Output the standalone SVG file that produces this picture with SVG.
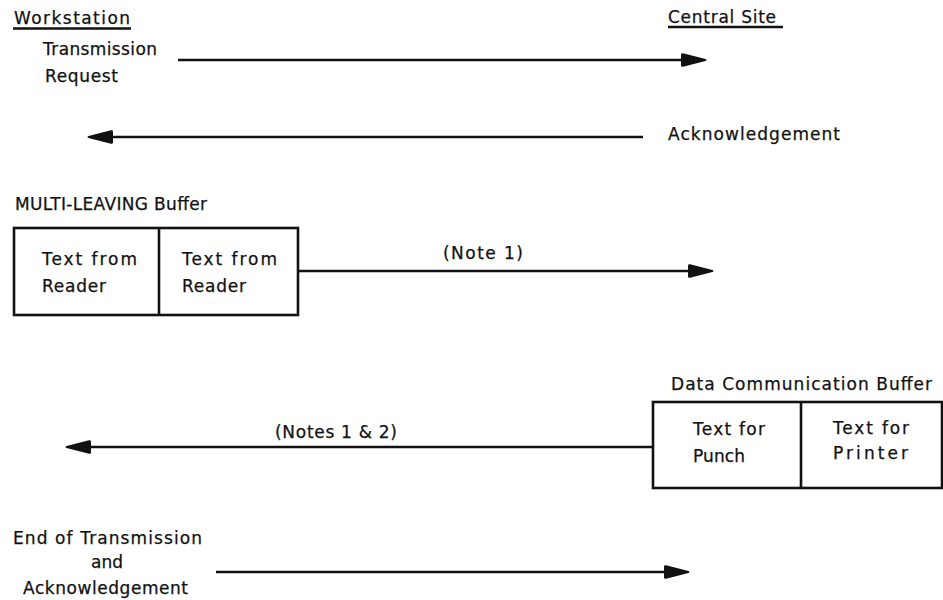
<svg xmlns="http://www.w3.org/2000/svg" width="943" height="600" viewBox="0 0 943 600">
<style>
text{font-family:"DejaVu Sans","Liberation Sans",sans-serif;font-size:17px;fill:#111;stroke:#111;stroke-width:0.25}
.ln{stroke:#111;stroke-width:2.6;fill:none}
.box{stroke:#111;stroke-width:2.6;fill:#fff}
</style>
<defs>
<marker id="ah" markerUnits="userSpaceOnUse" markerWidth="28" markerHeight="16" viewBox="0 0 28 16" refX="2" refY="8" orient="auto">
<path d="M0,2.5 Q0,1 2,1.3 L24.5,7 Q26.5,8 24.5,9 L2,14.7 Q0,15 0,13.5 z" fill="#111"/>
</marker>
</defs>
<rect width="943" height="600" fill="#fff"/>
<g id="workstation">
<text x="14" y="24" textLength="116" lengthAdjust="spacing">Workstation</text>
<line class="ln" x1="13" y1="28.5" x2="131" y2="28.5"/>
</g>
<g id="central-site">
<text x="668" y="23" textLength="108" lengthAdjust="spacing">Central Site</text>
<line class="ln" x1="668" y1="27" x2="783" y2="27"/>
</g>
<g id="transmission-request">
<text x="43" y="55" textLength="114" lengthAdjust="spacing">Transmission</text>
<text x="45" y="82" textLength="73" lengthAdjust="spacing">Request</text>
</g>
<g id="acknowledgement">
<text x="668" y="140" textLength="172" lengthAdjust="spacing">Acknowledgement</text>
</g>
<g id="multi-leaving-buffer">
<text x="15" y="210" textLength="192" lengthAdjust="spacing">MULTI-LEAVING Buffer</text>
<rect class="box" x="14" y="228" width="284" height="87"/>
<line class="ln" x1="159" y1="228" x2="159" y2="315"/>
<text x="42" y="265" textLength="95" lengthAdjust="spacing">Text from</text>
<text x="42" y="292" textLength="64" lengthAdjust="spacing">Reader</text>
<text x="182" y="265" textLength="95" lengthAdjust="spacing">Text from</text>
<text x="182" y="292" textLength="64" lengthAdjust="spacing">Reader</text>
</g>
<g id="data-communication-buffer">
<text x="671" y="390" textLength="261" lengthAdjust="spacing">Data Communication Buffer</text>
<rect class="box" x="653" y="402" width="289" height="86"/>
<line class="ln" x1="801" y1="402" x2="801" y2="488"/>
<text x="693" y="435" textLength="72" lengthAdjust="spacing">Text for</text>
<text x="693" y="462" textLength="52" lengthAdjust="spacing">Punch</text>
<text x="833" y="434" textLength="76" lengthAdjust="spacing">Text for</text>
<text x="833" y="459" textLength="75" lengthAdjust="spacing">Printer</text>
</g>
<g id="end-of-transmission">
<text x="13" y="544" textLength="189" lengthAdjust="spacing">End of Transmission</text>
<text x="91" y="568" textLength="32" lengthAdjust="spacing">and</text>
<text x="23" y="594" textLength="165" lengthAdjust="spacing">Acknowledgement</text>
</g>
<g id="connectors">
<line class="ln" x1="178" y1="60" x2="683" y2="60" marker-end="url(#ah)"/>
<line class="ln" x1="643" y1="137" x2="111" y2="137" marker-end="url(#ah)"/>
<line class="ln" x1="298" y1="271" x2="690" y2="271" marker-end="url(#ah)"/>
<text x="443" y="259" textLength="80" lengthAdjust="spacing">(Note 1)</text>
<line class="ln" x1="653" y1="447" x2="89" y2="447" marker-end="url(#ah)"/>
<text x="275" y="438" textLength="122" lengthAdjust="spacing">(Notes 1 &amp; 2)</text>
<line class="ln" x1="216" y1="572" x2="666" y2="572" marker-end="url(#ah)"/>
</g>
</svg>
